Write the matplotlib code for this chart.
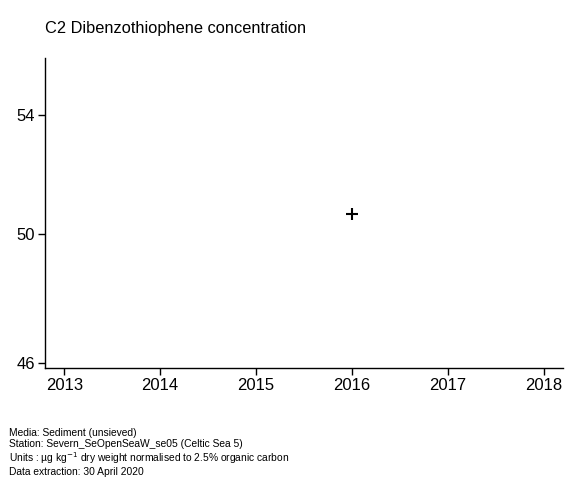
import matplotlib
matplotlib.use("Agg")
import matplotlib.pyplot as plt
from matplotlib.ticker import FixedLocator, FixedFormatter, NullLocator

plt.rcParams['font.family'] = ['Liberation Sans', 'DejaVu Sans']

# data
years = [2016]
values = [50.65]
x_ticks = [2013, 2014, 2015, 2016, 2017, 2018]
y_ticks = [46, 50, 54]

title = "C2 Dibenzothiophene concentration"
footer = [
    "Media: Sediment (unsieved)",
    "Station: Severn_SeOpenSeaW_se05 (Celtic Sea 5)",
    "Units : \u00b5g kg$^{-1}$ dry weight normalised to 2.5% organic carbon",
    "Data extraction: 30 April 2020",
]

fig = plt.figure(figsize=(5.8, 4.8), dpi=100)
ax = fig.add_axes([0.0776, 0.2333, 0.8931, 0.6458])

ax.plot(years, values, linestyle='none', marker='+', color='black',
        markersize=9, markeredgewidth=1.5)

ax.set_yscale('log')
ax.set_ylim(45.85, 56.03)
ax.set_xlim(2012.8, 2018.2)

ax.yaxis.set_major_locator(FixedLocator(y_ticks))
ax.yaxis.set_major_formatter(FixedFormatter([str(v) for v in y_ticks]))
ax.yaxis.set_minor_locator(NullLocator())
ax.set_xticks(x_ticks)
ax.set_xticklabels([str(v) for v in x_ticks])

for s in ['top', 'right']:
    ax.spines[s].set_visible(False)
for s in ['left', 'bottom']:
    ax.spines[s].set_linewidth(1.0)
ax.tick_params(axis='both', length=5, width=1.0, labelsize=12, pad=2,
               colors='black')

fig.text(0.078, 0.94, title, fontsize=11.8, ha='left', va='center')

# footer notes as one block
fig.text(0.016, 0.108, "\n".join(footer), fontsize=7.4, ha='left',
         va='top', linespacing=1.12)

fig.savefig("out.png", dpi=100)
